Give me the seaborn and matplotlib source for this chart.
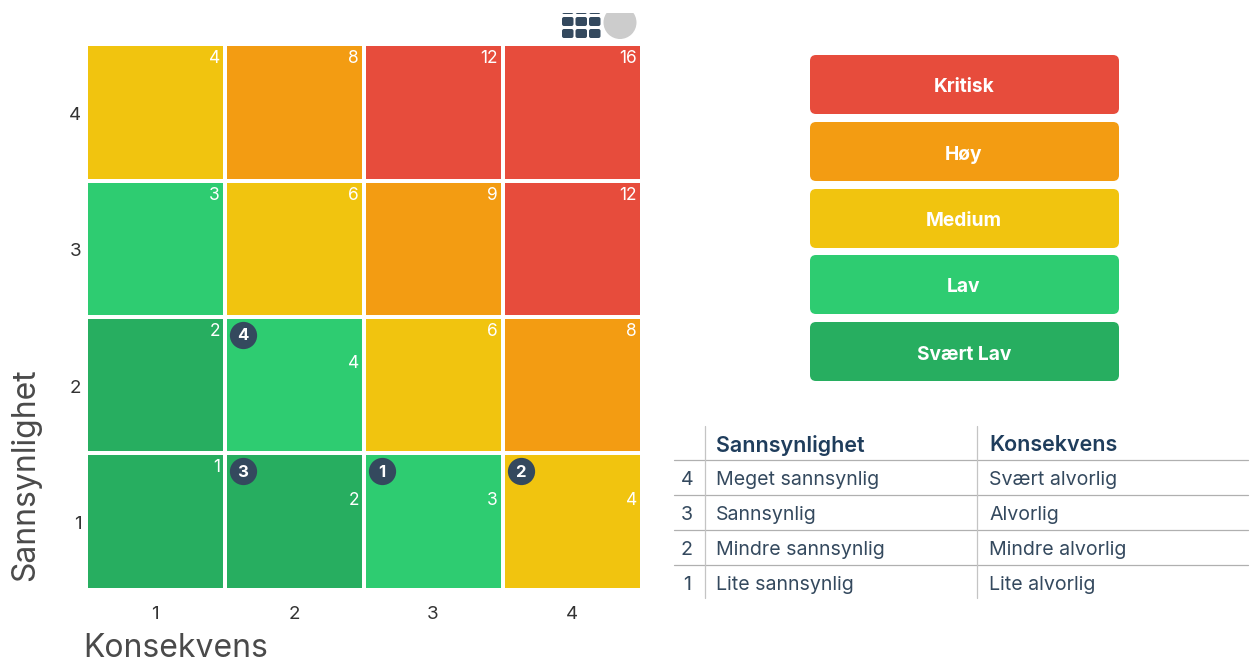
import numpy as np
import pandas as pd
import seaborn as sns
import matplotlib as mpl
mpl.use("Agg")
import matplotlib.pyplot as plt
from matplotlib.colors import ListedColormap
from matplotlib.patches import FancyBboxPatch, Circle, Rectangle
from matplotlib.transforms import ScaledTranslation

# data
likelihood = [4, 3, 2, 1]
consequence = [1, 2, 3, 4]
scores = [[4, 8, 12, 16],
          [3, 6, 9, 12],
          [2, 4, 6, 8],
          [1, 2, 3, 4]]
levels = [[2, 3, 4, 4],
          [1, 2, 3, 4],
          [0, 1, 2, 3],
          [0, 0, 1, 2]]
level_names = ['Svært Lav', 'Lav', 'Medium', 'Høy', 'Kritisk']
level_colors = ['#27AE60', '#2ECC71', '#F1C40F', '#F39C12', '#E74C3C']
risk_ids = [1, 2, 3, 4]
risk_cons = [3, 4, 2, 2]
risk_like = [1, 1, 1, 2]
table_index = [4, 3, 2, 1]
table_like = ['Meget sannsynlig', 'Sannsynlig', 'Mindre sannsynlig', 'Lite sannsynlig']
table_cons = ['Svært alvorlig', 'Alvorlig', 'Mindre alvorlig', 'Lite alvorlig']

W, H = 1257, 666
DARK = '#34495E'
NAVY = '#1F3D5C'
TXT = '#34495E'

sns.set_theme(style='white')
plt.rcParams['font.family'] = ['Inter', 'DejaVu Sans']

fig = plt.figure(figsize=(W / 100, H / 100), dpi=100)
ax = fig.add_axes([85.5 / W, 1 - 589.5 / H, 556 / W, 545 / H])
df = pd.DataFrame(levels, index=likelihood, columns=consequence)
sns.heatmap(df, ax=ax, cmap=ListedColormap(level_colors), vmin=-0.5, vmax=4.5,
            cbar=False, linewidths=1.7, linecolor='white')
ax.tick_params(axis='x', length=0, labelsize=13.5, labelcolor='#333333', pad=12)
ax.tick_params(axis='y', length=0, labelsize=13.5, labelcolor='#333333', labelrotation=0, pad=3)
# y tick labels sit a little under the cell centres
down = ScaledTranslation(0, -3 / 100, fig.dpi_scale_trans)
for t in ax.get_yticklabels():
    t.set_transform(t.get_transform() + down)
ax.set_xlabel('Konsekvens', fontsize=23, color='#4A4A4A')
ax.xaxis.set_label_coords(-0.004, -0.108)
ax.xaxis.label.set_ha('left')
ax.xaxis.label.set_va('center')
ax.set_ylabel('Sannsynlighet', fontsize=23, color='#4A4A4A')
ax.yaxis.set_label_coords(-0.107, 0.21)
ax.yaxis.label.set_va('center')
ax.yaxis.label.set_ha('center')

# pixel sizes converted to cell units
cw = 556 / 4
ch = 545 / 4
risk_cells = set(zip(risk_cons, risk_like))
for r, like in enumerate(likelihood):
    for c, cons in enumerate(consequence):
        off = 47 if (cons, like) in risk_cells else 14.5
        ax.text(c + 1 - 4.5 / cw, r + off / ch, str(scores[r][c]), color='white',
                fontsize=12.5, ha='right', va='center', zorder=4)

for rid, cons, like in zip(risk_ids, risk_cons, risk_like):
    r = likelihood.index(like)
    c = consequence.index(cons)
    ax.scatter(c + 18 / cw, r + 18 / ch, s=385, color=DARK, zorder=5, linewidths=0, clip_on=False)
    ax.text(c + 18 / cw, r + 19 / ch, str(rid), color='white', fontsize=12,
            fontweight='bold', ha='center', va='center', zorder=6)

# overlay in pixel coordinates for the legend, the table and the toolbar icons
ov = fig.add_axes([0, 0, 1, 1], facecolor='none')
ov.set_xlim(0, W)
ov.set_ylim(H, 0)
ov.axis('off')

tops = [55, 122, 189, 255, 322]
for top, name, col in zip(tops, level_names[::-1], level_colors[::-1]):
    ov.add_patch(FancyBboxPatch((810 + 6, top + 6), 309 - 12, 59 - 12,
                                boxstyle='round,pad=6,rounding_size=6',
                                fc=col, ec='none', mutation_aspect=1))
    ov.text(964, top + 32.5, name, color='white', fontsize=13.8, fontweight='bold',
            ha='center', va='center')

# table
for y in [460, 495, 530, 565]:
    ov.plot([674, 1248], [y, y], color='#B0B0B0', lw=0.9)
for x in [705, 977]:
    ov.plot([x, x], [426, 598], color='#C4C4C4', lw=0.9)
ov.text(716, 445, 'Sannsynlighet', color=NAVY, fontsize=15.5, fontweight='semibold', va='center')
ov.text(989, 445, 'Konsekvens', color=NAVY, fontsize=15.5, fontweight='semibold', va='center')
for i, (n, a, b) in enumerate(zip(table_index, table_like, table_cons)):
    y = 480 + i * 35
    ov.text(687, y, str(n), color=TXT, fontsize=14.1, ha='center', va='center')
    ov.text(716, y, a, color=TXT, fontsize=14.1, va='center')
    ov.text(989, y, b, color=TXT, fontsize=14.1, va='center')

# toolbar icons, cut off at the top
clip = Rectangle((540, 13), 110, 32, transform=ov.transData)
for rowy in [5, 17, 29]:
    for colx in [562, 575.5, 589]:
        p = FancyBboxPatch((colx + 2, rowy + 2), 7.5, 5, boxstyle='round,pad=2', fc=DARK, ec='none')
        ov.add_patch(p)
        p.set_clip_path(clip)
c = Circle((620, 22.5), 16.5, fc='#CCCCCC', ec='none')
ov.add_patch(c)
c.set_clip_path(clip)

fig.savefig('out.png', dpi=100)
